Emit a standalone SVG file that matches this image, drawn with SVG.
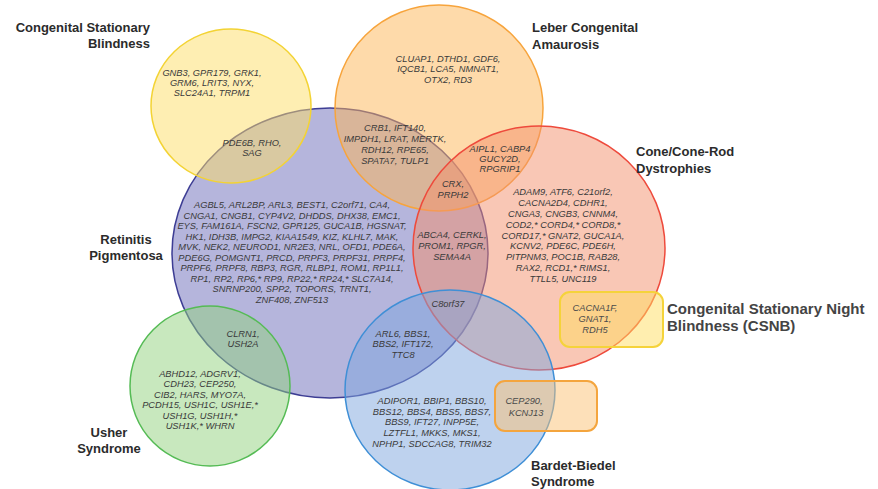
<svg xmlns="http://www.w3.org/2000/svg" width="878" height="489" viewBox="0 0 878 489">
  <style>
    .set { fill-opacity: 0.5; stroke-width: 1.5; }
    .box { fill-opacity: 0.5; stroke-width: 2; }
    .gene { font-family: "Liberation Sans", Arial, sans-serif; font-style: italic; font-size: 9.3px; fill: #3a3a3a; text-anchor: middle; }
    .gene-lt { font-family: "Liberation Sans", Arial, sans-serif; font-style: italic; font-size: 9.3px; fill: #4a4a4a; text-anchor: middle; }
    .cat { font-family: "Liberation Sans", Arial, sans-serif; font-weight: bold; font-size: 13px; fill: #2b2b2b; }
    .cat-big { font-family: "Liberation Sans", Arial, sans-serif; font-weight: bold; font-size: 15px; fill: #444444; }
  </style>

  <!-- disease sets -->
  <g id="sets">
    <g id="retinitis-pigmentosa"><ellipse class="set" cx="330" cy="253" rx="158" ry="145" fill="#6b6bb9" stroke="#3d3d94"/></g>
    <g id="congenital-stationary-blindness"><ellipse class="set" cx="231" cy="106" rx="80" ry="77" fill="#fddd65" stroke="#f3d334"/></g>
    <g id="leber-congenital-amaurosis"><ellipse class="set" cx="439" cy="108" rx="104" ry="103" fill="#fdb555" stroke="#f7a43c"/></g>
    <g id="cone-rod-dystrophies"><ellipse class="set" cx="539" cy="248" rx="126" ry="122" fill="#f38f6b" stroke="#ee4a3c"/></g>
    <g id="bardet-biedel-syndrome"><ellipse class="set" cx="450" cy="390" rx="105" ry="100" fill="#7da5dd" stroke="#3f8fd6"/></g>
    <g id="usher-syndrome"><ellipse class="set" cx="210" cy="386" rx="80" ry="80" fill="#91d17d" stroke="#55bb55"/></g>
    <g id="csnb-box"><rect class="box" x="560" y="292" width="103" height="55" rx="10" fill="#ffdd5f" stroke="#f5d33a"/></g>
    <g id="lca-bbs-box"><rect class="box" x="495" y="381" width="102" height="50" rx="10" fill="#fbc173" stroke="#f4a53e"/></g>
  </g>

  <!-- category titles -->
  <g id="titles">
    <text class="cat" text-anchor="end" x="150" y="32">Congenital Stationary</text>
    <text class="cat" text-anchor="end" x="150" y="48">Blindness</text>
    <text class="cat" x="532" y="32">Leber Congenital</text>
    <text class="cat" x="532" y="48.5">Amaurosis</text>
    <text class="cat" x="636" y="156">Cone/Cone-Rod</text>
    <text class="cat" x="636" y="172.5">Dystrophies</text>
    <text class="cat" text-anchor="middle" x="126" y="244">Retinitis</text>
    <text class="cat" text-anchor="middle" x="126" y="260">Pigmentosa</text>
    <text class="cat" text-anchor="middle" x="109" y="437">Usher</text>
    <text class="cat" text-anchor="middle" x="109" y="453">Syndrome</text>
    <text class="cat" x="531" y="470">Bardet-Biedel</text>
    <text class="cat" x="531" y="486">Syndrome</text>
    <text class="cat-big" x="667" y="314">Congenital Stationary Night</text>
    <text class="cat-big" x="667" y="331">Blindness (CSNB)</text>
  </g>

  <!-- gene lists -->
  <g id="genes-csb" class="gene">
    <text x="212" y="76">GNB3, GPR179, GRK1,</text>
    <text x="212" y="86">GRM6, LRIT3, NYX,</text>
    <text x="212" y="96">SLC24A1, TRPM1</text>
  </g>
  <g id="genes-lca" class="gene">
    <text x="448" y="61.5">CLUAP1, DTHD1, GDF6,</text>
    <text x="448" y="72">IQCB1, LCA5, NMNAT1,</text>
    <text x="448" y="82.5">OTX2, RD3</text>
  </g>
  <g id="genes-csb-rp" class="gene">
    <text x="252" y="145.5">PDE6B, RHO,</text>
    <text x="252" y="155.5">SAG</text>
  </g>
  <g id="genes-lca-rp" class="gene">
    <text x="395" y="130.5">CRB1, IFT140,</text>
    <text x="395" y="141.5">IMPDH1, LRAT, MERTK,</text>
    <text x="395" y="152.5">RDH12, RPE65,</text>
    <text x="395" y="163.5">SPATA7, TULP1</text>
  </g>
  <g id="genes-lca-crd" class="gene">
    <text x="500" y="151.5">AIPL1, CABP4</text>
    <text x="500" y="161.5">GUCY2D,</text>
    <text x="500" y="172">RPGRIP1</text>
  </g>
  <g id="genes-lca-rp-crd" class="gene">
    <text x="453" y="186.5">CRX,</text>
    <text x="453" y="197.5">PRPH2</text>
  </g>
  <g id="genes-rp-crd" class="gene">
    <text x="452" y="237.5">ABCA4, CERKL,</text>
    <text x="452" y="248.5">PROM1, RPGR,</text>
    <text x="452" y="259.5">SEMA4A</text>
  </g>
  <g id="genes-rp-crd-bbs" class="gene">
    <text x="448" y="306.5">C8orf37</text>
  </g>
  <g id="genes-crd" class="gene">
    <text x="563" y="195">ADAM9, ATF6, C21orf2,</text>
    <text x="563" y="206">CACNA2D4, CDHR1,</text>
    <text x="563" y="217">CNGA3, CNGB3, CNNM4,</text>
    <text x="563" y="227.5">COD2,* CORD4,* CORD8,*</text>
    <text x="563" y="238.5">CORD17,* GNAT2, GUCA1A,</text>
    <text x="563" y="249">KCNV2, PDE6C, PDE6H,</text>
    <text x="563" y="260">PITPNM3, POC1B, RAB28,</text>
    <text x="563" y="271">RAX2, RCD1,* RIMS1,</text>
    <text x="563" y="281.5">TTLL5, UNC119</text>
  </g>
  <g id="genes-rp" class="gene">
    <text x="292" y="208">AGBL5, ARL2BP, ARL3, BEST1, C2orf71, CA4,</text>
    <text x="292" y="218.5">CNGA1, CNGB1, CYP4V2, DHDDS, DHX38, EMC1,</text>
    <text x="292" y="229">EYS, FAM161A, FSCN2, GPR125, GUCA1B, HGSNAT,</text>
    <text x="292" y="239.5">HK1, IDH3B, IMPG2, KIAA1549, KIZ, KLHL7, MAK,</text>
    <text x="292" y="250">MVK, NEK2, NEUROD1, NR2E3, NRL, OFD1, PDE6A,</text>
    <text x="292" y="260.5">PDE6G, POMGNT1, PRCD, PRPF3, PRPF31, PRPF4,</text>
    <text x="292" y="271">PRPF6, PRPF8, RBP3, RGR, RLBP1, ROM1, RP1L1,</text>
    <text x="292" y="281.5">RP1, RP2, RP6,* RP9, RP22,* RP24,* SLC7A14,</text>
    <text x="292" y="292">SNRNP200, SPP2, TOPORS, TRNT1,</text>
    <text x="292" y="302.5">ZNF408, ZNF513</text>
  </g>
  <g id="genes-rp-usher" class="gene">
    <text x="243" y="336.5">CLRN1,</text>
    <text x="243" y="346.5">USH2A</text>
  </g>
  <g id="genes-usher" class="gene">
    <text x="200" y="376.5">ABHD12, ADGRV1,</text>
    <text x="200" y="387">CDH23, CEP250,</text>
    <text x="200" y="397.5">CIB2, HARS, MYO7A,</text>
    <text x="200" y="408">PCDH15, USH1C, USH1E,*</text>
    <text x="200" y="418.5">USH1G, USH1H,*</text>
    <text x="200" y="429">USH1K,* WHRN</text>
  </g>
  <g id="genes-rp-bbs" class="gene">
    <text x="403" y="336.5">ARL6, BBS1,</text>
    <text x="403" y="347">BBS2, IFT172,</text>
    <text x="403" y="357.5">TTC8</text>
  </g>
  <g id="genes-bbs" class="gene">
    <text x="432" y="403.5">ADIPOR1, BBIP1, BBS10,</text>
    <text x="432" y="414.5">BBS12, BBS4, BBS5, BBS7,</text>
    <text x="432" y="425">BBS9, IFT27, INPP5E,</text>
    <text x="432" y="436">LZTFL1, MKKS, MKS1,</text>
    <text x="432" y="447">NPHP1, SDCCAG8, TRIM32</text>
  </g>
  <g id="genes-csnb" class="gene-lt">
    <text x="595" y="310.5">CACNA1F,</text>
    <text x="595" y="321.5">GNAT1,</text>
    <text x="595" y="333">RDH5</text>
  </g>
  <g id="genes-lca-bbs" class="gene-lt">
    <text x="524" y="404">CEP290,</text>
    <text x="526" y="416">KCNJ13</text>
  </g>
</svg>
